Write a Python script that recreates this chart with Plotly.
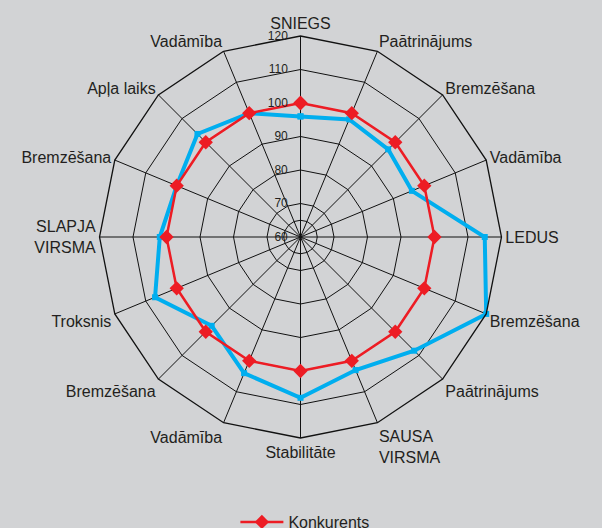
import plotly.graph_objects as go

# Data
labels = ["SNIEGS", "Paātrinājums", "Bremzēšana", "Vadāmība", "LEDUS", "Bremzēšana",
          "Paātrinājums", "SAUSA<br>VIRSMA", "Stabilitāte", "Vadāmība", "Bremzēšana",
          "Troksnis", "SLAPJA<br>VIRSMA", "Bremzēšana", "Apļa laiks", "Vadāmība"]
konkurents = [100, 100, 100, 100, 100, 100, 100, 100, 100, 100, 100, 100, 100, 100, 100, 100]
tested = [96, 98, 97, 96, 115, 120, 108, 103, 108, 104, 97.5, 107, 102, 100, 103.5, 100]
radial_ticks = [60, 70, 80, 90, 100, 110, 120]
inner_ring = 65

# unique category keys (labels repeat)
cats = [f"k{i}" for i in range(len(labels))]

BG = "#d2d3d5"
TXT = "#231f20"

def closed(v):
    return list(v) + [v[0]]

fig = go.Figure()

fig.add_trace(go.Scatterpolar(
    r=[inner_ring] * (len(cats) + 1), theta=closed(cats),
    mode="lines", line=dict(color="#111111", width=1),
    hoverinfo="skip", showlegend=False))

fig.add_trace(go.Scatterpolar(
    r=closed(tested), theta=closed(cats), name="Riepa",
    mode="lines+markers", line=dict(color="#00aeef", width=4),
    marker=dict(symbol="square", size=6, color="#00aeef"),
    showlegend=False))

fig.add_trace(go.Scatterpolar(
    r=closed(konkurents), theta=closed(cats), name="Konkurents",
    mode="lines+markers", line=dict(color="#ed1c24", width=2.5),
    marker=dict(symbol="diamond", size=11, color="#ed1c24")))

fig.update_layout(
    width=602, height=528,
    margin=dict(l=0, r=0, t=0, b=0, autoexpand=False),
    paper_bgcolor=BG, plot_bgcolor=BG,
    font=dict(family="Liberation Sans, Arial, sans-serif", color=TXT),
    polar=dict(
        bgcolor=BG,
        domain=dict(x=[99.5 / 602, 501.5 / 602], y=[1 - 438 / 528, 1 - 36 / 528]),
        gridshape="linear",
        radialaxis=dict(
            range=[60, 120], tickmode="array", tickvals=radial_ticks,
            angle=90, side="counterclockwise", tickangle=90,
            showline=False, showgrid=True, gridcolor="#111111", gridwidth=1.3,
            ticks="outside", ticklen=8, tickcolor="rgba(0,0,0,0)",
            tickfont=dict(size=12, color=TXT),
        ),
        angularaxis=dict(
            type="category", categoryarray=cats,
            rotation=90, direction="clockwise",
            tickmode="array", tickvals=cats, ticktext=labels,
            showline=True, linecolor="#111111", linewidth=1.3,
            gridcolor="#111111", gridwidth=1.3,
            ticks="", tickfont=dict(size=16, color=TXT),
        ),
    ),
    legend=dict(
        x=0.391, y=1 - 522 / 528, xanchor="left", yanchor="middle",
        itemwidth=43,
        bgcolor="rgba(0,0,0,0)", font=dict(size=16, color=TXT),
    ),
)

fig.write_html("out.html", config={"displayModeBar": False},
               post_script="document.body.style.margin='0';")
